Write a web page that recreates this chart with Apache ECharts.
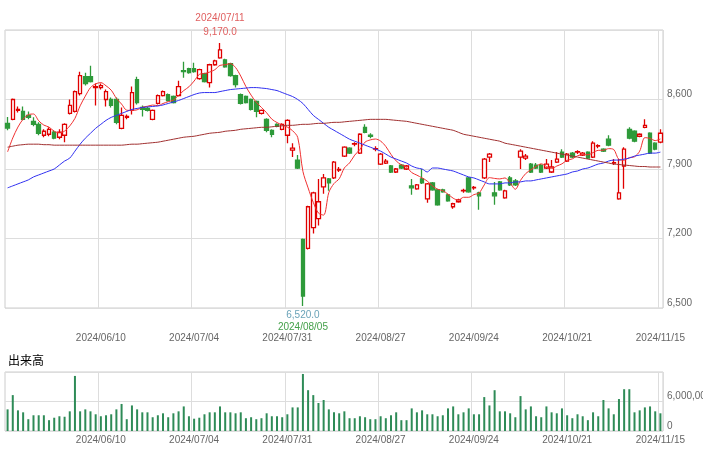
<!DOCTYPE html>
<html><head><meta charset="utf-8">
<script src="https://cdn.jsdelivr.net/npm/echarts@6/dist/echarts.min.js"></script>
<style>html,body{margin:0;padding:0;background:#fff}#c{width:703px;height:450px}</style>
</head><body><div id="c"></div>
<script>
// trading calendar
const startDate = '2024-05-15', endDate = '2024-11-15';
const holidays = ['2024-07-15','2024-08-12','2024-09-16','2024-09-23','2024-10-14','2024-11-04'];
const labelDates = ['2024/06/10','2024/07/04','2024/07/31','2024/08/27','2024/09/24','2024/10/21','2024/11/15'];
const yTicks = [6500, 7200, 7900, 8600];
// [open, close, low, high]
const ohlc = [
[8360,8313,8290,8423],[8400,8600,8390,8610],[8490,8500,8470,8530],[8480,8400,8390,8530],[8440,8420,8400,8480],
[8380,8350,8330,8420],[8350,8260,8240,8370],[8240,8280,8220,8300],[8250,8300,8230,8320],[8270,8210,8200,8290],
[8220,8270,8200,8300],[8240,8350,8170,8360],[8460,8540,8450,8600],[8480,8680,8470,8690],[8660,8840,8640,8880],
[8830,8760,8740,8870],[8830,8780,8770,8940],[8720,8730,8540,8760],[8720,8740,8700,8760],[8600,8680,8530,8700],
[8600,8540,8520,8620],[8600,8370,8350,8620],[8310,8440,8300,8520],[8420,8430,8400,8450],[8490,8670,8450,8730],
[8800,8570,8550,8830],[8520,8500,8430,8540],[8510,8490,8480,8530],[8400,8490,8390,8500],[8560,8640,8550,8650],
[8640,8680,8630,8690],[8650,8590,8580,8660],[8630,8570,8560,8640],[8640,8730,8630,8790],[8890,8880,8820,8980],
[8910,8870,8860,8920],[8910,8880,8870,8970],[8810,8900,8800,8910],[8860,8780,8770,8870],[8770,8950,8720,8960],
[8950,8990,8940,9000],[9020,9100,9010,9170],[9000,8930,8920,9010],[8960,8840,8830,8970],[8840,8750,8720,8850],
[8650,8560,8550,8660],[8630,8570,8560,8640],[8600,8500,8490,8610],[8580,8480,8420,8590],[8460,8490,8450,8500],
[8400,8290,8270,8410],[8290,8250,8220,8300],[8350,8330,8320,8360],[8300,8350,8290,8360],[8240,8390,8160,8400],
[8090,8110,8020,8160],[7990,7910,7900,8040],[7190,6620,6520,7200],[7100,7520,7090,7530],[7310,7660,7250,7670],
[7400,7570,7330,7800],[7720,7810,7650,7850],[7800,7760,7680,7810],[7810,7970,7800,7980],[7890,7895,7870,7920],
[8030,8120,8020,8130],[8110,8060,8050,8120],[8150,8155,8130,8170],[8060,8250,8050,8260],[8320,8270,8260,8350],
[8240,8230,8210,8260],[8100,8105,8080,8130],[7950,8050,7940,8060],[7960,7980,7950,8000],[7930,7870,7860,7940],
[7870,7900,7860,7910],[7940,7910,7900,7950],[7900,7930,7890,7940],[7730,7710,7640,7800],[7700,7740,7690,7750],
[7800,7760,7750,7900],[7600,7750,7560,7760],[7760,7690,7680,7770],[7690,7540,7530,7700],[7690,7670,7660,7700],
[7640,7580,7570,7650],[7520,7550,7500,7560],[7570,7590,7560,7600],[7680,7685,7660,7700],[7810,7670,7660,7820],
[7710,7715,7690,7730],[7660,7630,7490,7670],[7810,8000,7800,8010],[8020,8050,7970,8060],[7660,7630,7540,7770],
[7770,7690,7680,7780],[7610,7680,7600,7690],[7810,7740,7730,7830],[7780,7740,7730,7800],[8020,8080,7900,8100],
[8010,8030,7990,8050],[7950,7870,7860,7960],[7940,7910,7900,7960],[7940,7870,7860,7950],[7910,7950,7900,8000],
[7870,7920,7860,7990],[7970,8000,7960,8070],[8070,8020,8010,8100],[7980,8050,7970,8060],[8060,8020,8010,8070],
[8070,8075,8050,8090],[8040,8060,8030,8070],[8070,8010,8000,8080],[8020,8160,8010,8180],[8130,8135,8110,8150],
[8100,8080,8070,8110],[8200,8140,8130,8240],[7960,7965,7940,8000],[7600,7660,7590,8000],[7930,8100,7700,8120],
[8300,8210,8200,8320],[8280,8180,8170,8290],[8230,8250,8220,8260],[8320,8340,8310,8400],[8260,8060,8050,8270],
[8160,8100,8090,8170],[8170,8260,8160,8300]
];
const prevCloses = [7900, 7950, 8000, 8200];
const ma25 = [7710,7730,7750,7770,7790,7820,7840,7860,7880,7900,
7940,7980,8010,8080,8150,8210,8260,8310,8350,8390,
8420,8440,8460,8480,8500,8510,8520,8525,8530,8535,
8545,8560,8575,8590,8610,8630,8650,8665,8670,8670,
8670,8680,8690,8700,8705,8710,8715,8720,8720,8715,
8710,8700,8690,8670,8650,8630,8600,8560,8500,8440,
8400,8360,8320,8290,8260,8230,8200,8180,8160,8140,
8120,8100,8080,8050,8020,8000,7980,7960,7930,7910,
7900,7870,7910,7910,7900,7890,7880,7860,7840,7820,
7810,7790,7770,7750,7750,7750,7760,7760,7770,7770,
7780,7780,7790,7800,7810,7820,7830,7840,7850,7870,
7880,7900,7910,7930,7950,7960,7980,7990,7990,8000,
8010,8030,8040,8050,8060,8060,8070];
const ma75 = [8120,8130,8140,8145,8150,8150,8150,8145,8145,8140,
8140,8140,8140,8140,8140,8140,8140,8140,8140,8140,
8140,8140,8140,8145,8150,8150,8155,8160,8165,8170,
8180,8190,8200,8210,8220,8225,8230,8240,8250,8260,
8265,8270,8280,8285,8290,8300,8305,8310,8315,8320,
8320,8325,8330,8335,8340,8340,8345,8350,8350,8355,
8360,8360,8365,8370,8370,8375,8380,8385,8390,8395,
8400,8400,8400,8400,8395,8390,8385,8380,8370,8360,
8350,8340,8330,8320,8310,8300,8290,8270,8250,8240,
8230,8220,8210,8200,8190,8180,8160,8150,8140,8130,
8120,8110,8100,8090,8080,8070,8060,8050,8040,8030,
8020,8010,8000,7990,7980,7970,7960,7950,7945,7940,
7935,7930,7925,7925,7920,7920,7920];
// volume in millions of shares
const volumeM = [4.4,7.3,4.2,3.8,2.4,3.2,3.2,3.2,2.2,2.7,3.0,
2.9,4.0,11.2,4.0,4.4,4.0,3.4,3.0,3.2,3.4,
4.4,5.5,2.4,5.2,4.4,3.8,3.8,2.8,3.2,3.6,
2.8,3.6,4.0,5.0,3.0,2.5,2.7,3.4,3.8,3.8,
5.0,3.8,3.8,3.6,3.8,2.6,2.8,2.4,2.6,3.6,
3.0,3.0,2.8,3.4,4.8,4.8,11.6,8.3,7.3,5.7,
6.3,4.4,3.8,3.6,4.0,2.6,2.6,3.0,2.8,2.4,
2.4,3.0,2.6,3.2,3.8,2.2,2.2,4.6,3.8,4.2,
3.4,3.4,3.0,3.2,4.6,5.0,3.4,3.8,4.6,3.4,
3.4,6.9,5.2,8.3,4.0,4.0,3.6,2.8,7.1,4.4,
5.0,3.0,2.8,5.0,3.8,3.6,4.6,3.2,2.6,3.4,
3.0,2.2,3.8,3.0,6.3,4.6,3.4,6.5,8.5,8.5,
3.8,4.2,4.8,5.0,4.0,3.6];

const dates = [];
for (let d = new Date(startDate + 'T00:00:00Z'); d <= new Date(endDate + 'T00:00:00Z'); d.setUTCDate(d.getUTCDate() + 1)) {
  const wd = d.getUTCDay();
  const iso = d.toISOString().slice(0, 10);
  if (wd === 0 || wd === 6 || holidays.includes(iso)) continue;
  dates.push(iso.replace(/-/g, '/'));
}
const n = ohlc.length;
const cats = dates.slice(0, n);
const closes = ohlc.map(r => r[1]);
const allC = prevCloses.concat(closes);
const ma5 = closes.map((_, i) => +(allC.slice(i, i + 5).reduce((a, b) => a + b, 0) / 5).toFixed(1));
const volume = volumeM.slice(0, n).map(v => v * 1e6);

let hiI = 0, loI = 0;
ohlc.forEach((r, i) => { if (r[3] > ohlc[hiI][3]) hiI = i; if (r[2] < ohlc[loI][2]) loI = i; });
const fmt = v => v.toLocaleString('en-US');
const showLab = (i, v) => labelDates.includes(v);
const gray = '#666';

const chart = echarts.init(document.getElementById('c'));
chart.setOption({
  animation: false,
  title: { text: '出来高', left: 3, top: 349, textStyle: { fontSize: 12, fontWeight: 'normal', color: '#000', fontFamily: 'Noto Sans CJK JP' } },
  grid: [
    { left: 5, right: 40, top: 30, height: 278, show: true, borderColor: '#ccc', borderWidth: 1, outerBoundsMode: 'none', containLabel: false },
    { left: 5, right: 40, top: 372, height: 59, show: true, borderColor: '#ccc', borderWidth: 1, outerBoundsMode: 'none', containLabel: false }
  ],
  xAxis: [
    { type: 'category', data: cats, gridIndex: 0, boundaryGap: true,
      axisLine: { show: false }, axisTick: { show: false },
      axisLabel: { interval: showLab, margin: 25, color: gray, fontSize: 10 },
      splitLine: { show: true, interval: showLab, lineStyle: { color: '#ddd' } } },
    { type: 'category', data: cats, gridIndex: 1, boundaryGap: true,
      axisLine: { show: false }, axisTick: { show: false },
      axisLabel: { interval: showLab, margin: 4, color: gray, fontSize: 10 },
      splitLine: { show: true, interval: showLab, lineStyle: { color: '#ddd' } } }
  ],
  yAxis: [
    { type: 'value', gridIndex: 0, position: 'right', min: 6500, max: 9300, interval: 700,
      axisLine: { show: false }, axisTick: { show: false },
      axisLabel: { color: gray, fontSize: 10, margin: 4, verticalAlign: 'bottom',
        formatter: v => yTicks.includes(v) ? fmt(v) : '' },
      splitLine: { lineStyle: { color: '#ddd' } } },
    { type: 'value', gridIndex: 1, position: 'right', min: 0, max: 12000000, interval: 6000000,
      axisLine: { show: false }, axisTick: { show: false },
      axisLabel: { color: gray, fontSize: 10, margin: 4, verticalAlign: 'bottom',
        formatter: v => v < 12000000 ? fmt(v) : '' },
      splitLine: { lineStyle: { color: '#ddd' } } }
  ],
  series: [
    { type: 'candlestick', data: ohlc.map(r => [r[0], r[1], r[2], r[3]]), barWidth: 4,
      itemStyle: { color: '#fff', borderColor: '#e00000', color0: '#2e9a3a', borderColor0: '#2e9a3a', borderWidth: 1.3 },
      markPoint: { symbol: 'circle', symbolSize: 0, silent: true, data: [
        { coord: [hiI, ohlc[hiI][3]], label: { show: true, position: 'top', distance: 4, align: 'center',
          formatter: cats[hiI] + '\n' + fmt(ohlc[hiI][3]) + '.0', color: '#e06060', fontSize: 10, lineHeight: 14 } },
        { coord: [loI, ohlc[loI][2]], label: { show: true, position: 'bottom', distance: 3, align: 'center',
          formatter: '{a|' + fmt(ohlc[loI][2]) + '.0}\n{b|' + cats[loI] + '}',
          rich: { a: { color: '#6aa3b8', fontSize: 10, lineHeight: 12 }, b: { color: '#44a04a', fontSize: 10, lineHeight: 12 } } } }
      ] } },
    { type: 'line', data: ma5, symbol: 'none', smooth: 0.3, lineStyle: { color: '#f03030', width: 1 } },
    { type: 'line', data: ma25, symbol: 'none', smooth: 0.3, lineStyle: { color: '#3030f0', width: 1 } },
    { type: 'line', data: ma75, symbol: 'none', smooth: 0.3, lineStyle: { color: '#a03030', width: 1 } },
    { type: 'bar', xAxisIndex: 1, yAxisIndex: 1, data: volume, barWidth: 2, itemStyle: { color: '#2e8b57' } }
  ]
});
</script></body></html>
